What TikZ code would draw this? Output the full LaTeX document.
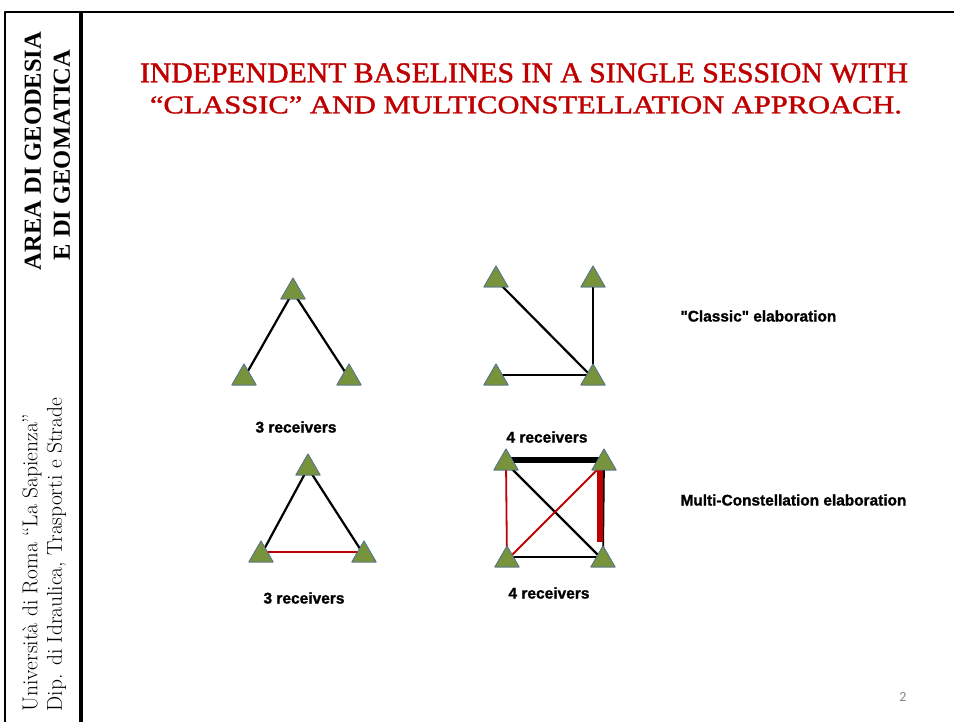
\documentclass[tikz,border=0pt]{standalone}
\usepackage{fontspec}
\usepackage{xcolor}
\usepackage{tikz}
\usetikzlibrary{shapes.geometric}
\newfontfamily\headserif{Liberation Serif}
\newfontfamily\titleserif{Liberation Serif}[FakeBold=1.4]
\newfontfamily\labelsans{Liberation Sans}[BoldFeatures={FakeBold=1.3}]
\newfontfamily\pagesans{Carlito}

\begin{document}
\begin{tikzpicture}[
  x=1pt, y=-1pt,
  line cap=butt,
  line join=round,
  frame/.style={draw=black, line width=2pt},
  framethick/.style={draw=black, line width=3.2pt},
  receiver/.style={regular polygon, regular polygon sides=3, minimum size=28pt,
    inner sep=0pt, fill=rxgreen, draw=rxedge, line width=0.8pt},
  base/.style={draw=black, line width=2.2pt},
  basered/.style={draw=slidered, line width=1.8pt},
  rxlabel/.style={font=\labelsans\bfseries\fontsize{15.5}{18}\selectfont},
  methodlabel/.style={font=\labelsans\bfseries\fontsize{15.4}{18}\selectfont, anchor=west},
  sidehead/.style={rotate=90, font=\headserif\bfseries\fontsize{24.5}{28}\selectfont},
  sidefoot/.style={rotate=90, anchor=west, font=\fontsize{21.5}{24}\selectfont},
  titleline/.style={text=slidered, font=\titleserif, inner sep=0pt}
]
\definecolor{slidered}{HTML}{C00000}
\definecolor{rxgreen}{HTML}{77933C}
\definecolor{rxedge}{HTML}{5A7691}

\useasboundingbox (0,0) rectangle (954,722);

% slide frame
\draw[frame] (5,722) -- (5,12) -- (954,12);
\draw[framethick] (81,12) -- (81,722);

% side column
\node[sidehead] (area) at (33,151) {AREA DI GEODESIA};
\node[sidehead] (edi) at (62,155) {E DI GEOMATICA};
\node[sidefoot] (univ) at (32,715) {Università di Roma “La Sapienza”};
\node[sidefoot] (dip) at (56.5,715) {Dip. di Idraulica, Trasporti e Strade};

% title
\node[titleline] (title1) at (524,73)
  {\resizebox{768pt}{19pt}{INDEPENDENT BASELINES IN A SINGLE SESSION WITH}};
\node[titleline] (title2) at (526,105)
  {\resizebox{752pt}{17pt}{“CLASSIC” AND MULTICONSTELLATION APPROACH.}};

% "classic" elaboration, 3 receivers
\node[receiver] (c3t) at (293,292) {};
\node[receiver] (c3l) at (244,378) {};
\node[receiver] (c3r) at (349,378) {};
\draw[base] (c3t.center) -- (c3l.center);
\draw[base] (c3t.center) -- (c3r.center);
\node[rxlabel] (c3lab) at (296,427) {3 receivers};

% "classic" elaboration, 4 receivers
\node[receiver] (c4a) at (496,280) {};
\node[receiver] (c4b) at (593,280) {};
\node[receiver] (c4c) at (496,378) {};
\node[receiver] (c4d) at (593,378) {};
\draw[base] (c4a.center) -- (c4d.center);
\draw[base] (c4b.center) -- (c4d.center);
\draw[base] ([yshift=3pt]c4c.center) -- ([yshift=3pt]c4d.center);
\node[rxlabel] (c4lab) at (547,437) {4 receivers};

% multi-constellation, 3 receivers
\node[receiver] (m3t) at (308,468) {};
\node[receiver] (m3l) at (261,555) {};
\node[receiver] (m3r) at (364,555) {};
\draw[base] (m3t.center) -- (m3l.center);
\draw[base] (m3t.center) -- (m3r.center);
\draw[basered] ([yshift=3pt]m3l.center) -- ([yshift=3pt]m3r.center);
\node[rxlabel] (m3lab) at (304,598) {3 receivers};

% multi-constellation, 4 receivers
\node[receiver] (m4a) at (506,463) {};
\node[receiver] (m4b) at (604,463) {};
\node[receiver] (m4c) at (507,560) {};
\node[receiver] (m4d) at (603,560) {};
\coordinate (bartop) at (599.5,468);
\coordinate (barbot) at (599.5,542);
\draw[base, line width=1.8pt] (m4b.center) -- (m4d.center);
\draw[basered] ([yshift=4pt]m4a.center) -- ([yshift=4pt]m4b.center);
\draw[basered] (m4a.center) -- (m4c.center);
\draw[base] (m4a.center) -- (m4d.center);
\draw[basered] (m4c.center) -- (m4b.center);
\draw[base] ([yshift=3pt]m4c.center) -- ([yshift=3pt]m4d.center);
\draw[draw=black, line width=6pt] ([xshift=3pt,yshift=3pt]m4a.center) -- ([xshift=-5pt,yshift=3pt]m4b.center);
\draw[draw=slidered, line width=6pt] (bartop) -- (barbot);
\node[rxlabel] (m4lab) at (549,593) {4 receivers};

% re-draw receivers over the baselines
\foreach \rx in {c3t,c3l,c3r,c4a,c4b,c4c,c4d,m3t,m3l,m3r,m4a,m4b,m4c,m4d}{
  \node[receiver] at (\rx) {};
}

% method labels
\node[methodlabel] (classic) at (677,316) {"Classic" elaboration};
\node[methodlabel] (multi) at (677,500) {Multi-Constellation elaboration};

% page number
\node[text=black!48, font=\pagesans\fontsize{14}{16}\selectfont] (pagenum) at (903,697) {2};
\end{tikzpicture}
\end{document}
